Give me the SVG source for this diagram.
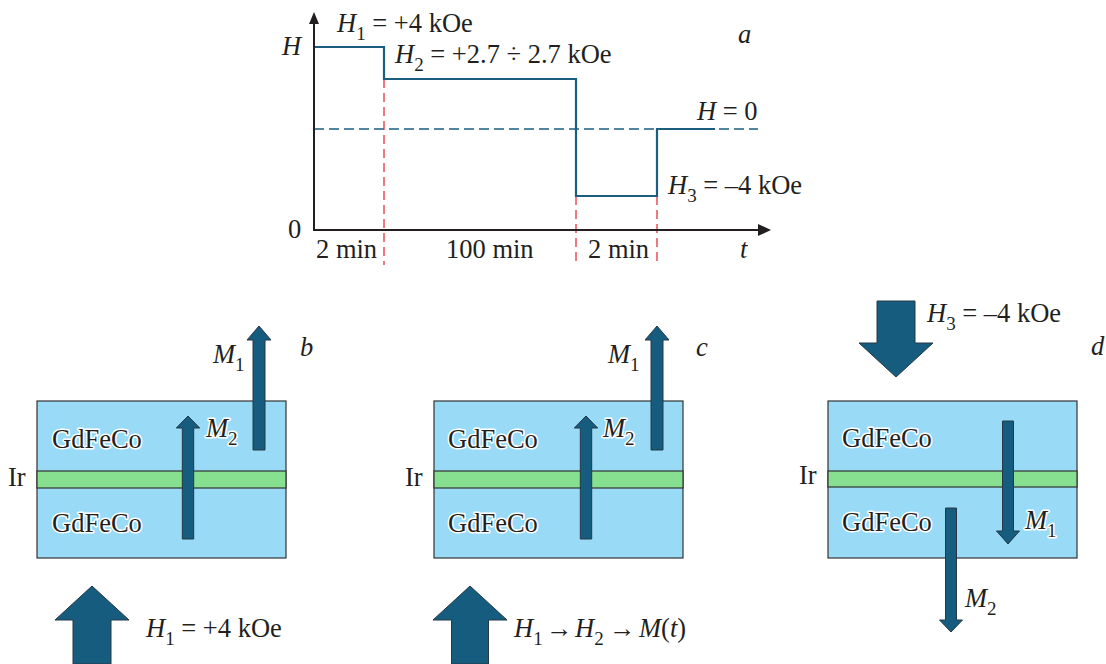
<svg xmlns="http://www.w3.org/2000/svg" width="1106" height="664" viewBox="0 0 1106 664">
<style>
text{font-family:"Liberation Serif","Times New Roman",serif;font-size:26.5px;fill:#231f20}
.i{font-style:italic}
.s{font-size:19px;font-style:normal}
.halo{paint-order:stroke;stroke:#fff;stroke-width:3px;stroke-linejoin:round}
.layer{fill:#99dbf6;stroke:#333;stroke-width:1.2}
.ir{fill:#86e08f;stroke:#333;stroke-width:1.2}
.arr{fill:#165c7e;stroke:#263845;stroke-width:1}
.axis{stroke:#231f20;stroke-width:2;fill:none}
.step{stroke:#1b5e80;stroke-width:2.2;fill:none}
.zero{stroke:#1b5e80;stroke-width:1.3;stroke-dasharray:10 5;fill:none}
.red{stroke:#e8313c;stroke-width:1.3;stroke-dasharray:9 5;fill:none}
</style>
<rect width="1106" height="664" fill="#fff"/>
<g id="graph">
<line class="zero" x1="314" y1="129" x2="758" y2="129"/>
<path class="red" d="M384 79V265M576 196V265M657 196V265"/>
<path class="step" d="M315 47H384V79H576V196H657V129H715"/>
<path class="axis" d="M314 22V230H760"/>
<polygon points="314,12 309,24 319,24" fill="#231f20"/>
<polygon points="771,230 758,224 758,236" fill="#231f20"/>
<text x="282" y="55" class="i">H</text>
<text x="288" y="238">0</text>
<text x="337" y="32"><tspan class="i">H</tspan><tspan class="s" dy="8">1</tspan><tspan dy="-8"> = +4 kOe</tspan></text>
<text x="395" y="63"><tspan class="i">H</tspan><tspan class="s" dy="8">2</tspan><tspan dy="-8"> = +2.7 ÷ 2.7 kOe</tspan></text>
<text x="738" y="43" class="i">a</text>
<text x="697" y="120"><tspan class="i">H</tspan> = 0</text>
<text x="668" y="194"><tspan class="i">H</tspan><tspan class="s" dy="8">3</tspan><tspan dy="-8"> = –4 kOe</tspan></text>
<text x="316" y="258">2 min</text>
<text x="446" y="258">100 min</text>
<text x="588" y="258">2 min</text>
<text x="740" y="258" class="i">t</text>
</g>
<g id="panel-b">
<rect class="layer" x="37" y="401" width="249" height="157"/>
<rect class="ir" x="37" y="471" width="249" height="17"/>
<text x="52" y="448" class="halo">GdFeCo</text>
<text x="52" y="532" class="halo">GdFeCo</text>
<text x="8" y="486">Ir</text>
<path class="arr" d="M182.3 539V428H176.3L188 416L199.7 428H193.7V539Z"/>
<path class="arr" d="M253 450V340H247L259 326L271 340H265V450Z"/>
<path class="arr" d="M73 664V620H55L92 586L129 620H111V664Z"/>
<text x="213" y="363"><tspan class="i">M</tspan><tspan class="s" dy="8">1</tspan></text>
<text x="206" y="437" class="halo"><tspan class="i">M</tspan><tspan class="s" dy="8">2</tspan></text>
<text x="300" y="356" class="i">b</text>
<text x="146" y="637"><tspan class="i">H</tspan><tspan class="s" dy="8">1</tspan><tspan dy="-8"> = +4 kOe</tspan></text>
</g>
<g id="panel-c">
<rect class="layer" x="434" y="401" width="249" height="157"/>
<rect class="ir" x="434" y="471" width="249" height="17"/>
<text x="448" y="448" class="halo">GdFeCo</text>
<text x="448" y="532" class="halo">GdFeCo</text>
<text x="405" y="486">Ir</text>
<path class="arr" d="M580.3 539V428H574.3L586 416L597.7 428H591.7V539Z"/>
<path class="arr" d="M651 450V340H645L657 326L669 340H663V450Z"/>
<path class="arr" d="M451.5 664V620H433L470 586L507 620H488.5V664Z"/>
<text x="608" y="363"><tspan class="i">M</tspan><tspan class="s" dy="8">1</tspan></text>
<text x="603" y="437" class="halo"><tspan class="i">M</tspan><tspan class="s" dy="8">2</tspan></text>
<text x="696" y="356" class="i">c</text>
<text y="637"><tspan x="514" class="i">H</tspan><tspan class="s" dy="8">1</tspan><tspan x="546" dy="-8">→</tspan><tspan x="575" class="i">H</tspan><tspan class="s" dy="8">2</tspan><tspan x="609" dy="-8">→</tspan><tspan x="639" class="i">M</tspan>(<tspan class="i">t</tspan>)</text>
</g>
<g id="panel-d">
<rect class="layer" x="828" y="401" width="249" height="157"/>
<rect class="ir" x="828" y="471" width="249" height="16"/>
<text x="842" y="447" class="halo">GdFeCo</text>
<text x="842" y="531" class="halo">GdFeCo</text>
<text x="799" y="484">Ir</text>
<path class="arr" d="M877 301V343H859L896 377L933 343H915V301Z"/>
<path class="arr" d="M1002.5 421V531H996.5L1008 544L1019.5 531H1013.5V421Z"/>
<path class="arr" d="M945.5 508V620H939.5L951 632L962.5 620H956.5V508Z"/>
<text x="927" y="322"><tspan class="i">H</tspan><tspan class="s" dy="8">3</tspan><tspan dy="-8"> = –4 kOe</tspan></text>
<text x="1091" y="355" class="i">d</text>
<text x="1025" y="529" class="halo"><tspan class="i">M</tspan><tspan class="s" dy="8">1</tspan></text>
<text x="965" y="607"><tspan class="i">M</tspan><tspan class="s" dy="8">2</tspan></text>
</g>
</svg>
